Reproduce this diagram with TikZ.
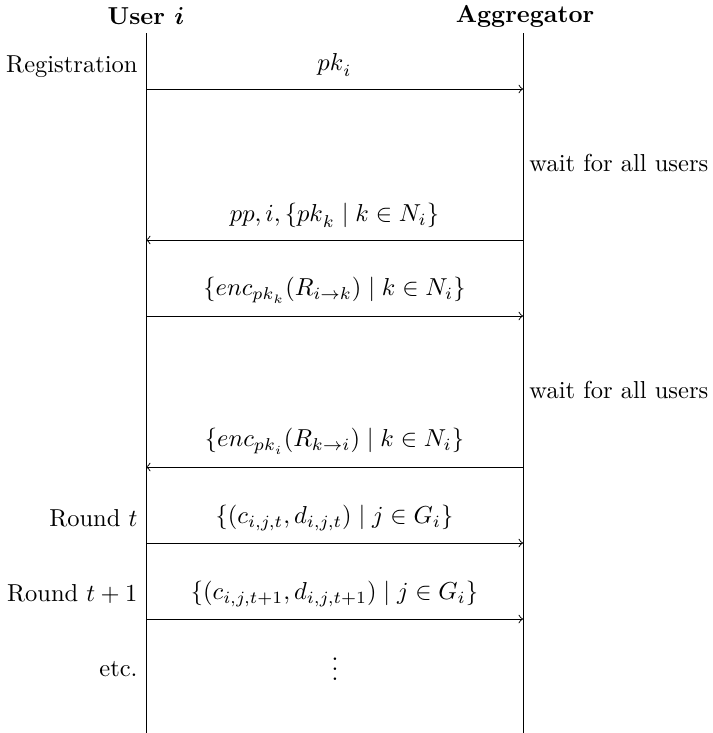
\documentclass[tikz,border=0pt]{standalone}
\usepackage{amsmath,amssymb,bm}
\begin{document}
\begin{tikzpicture}[x=0.408pt,y=-0.408pt,
  lifeline/.style={line width=0.4pt},
  msg/.style={->,line width=0.4pt},
  msglabel/.style={midway,above=1.5pt},
  sidelabel/.style={anchor=east,inner sep=0pt},
  waitlabel/.style={anchor=west,inner sep=0pt},
  header/.style={font=\bfseries,inner sep=0pt}]
\useasboundingbox (0,0) rectangle (713,733);
% headers
\node[header] (user) at (146,16) {User $\bm{i}$};
\node[header] (agg) at (525,16) {Aggregator};
% lifelines
\coordinate (utop) at (146,33);
\coordinate (ubot) at (146,733);
\coordinate (atop) at (523,33);
\coordinate (abot) at (523,733);
\draw[lifeline] (utop) -- (ubot);
\draw[lifeline] (atop) -- (abot);
% message points
\foreach \n/\y in {1/89,2/240,3/316,4/467,5/543,6/619}{
  \coordinate (u\n) at (146,\y);
  \coordinate (a\n) at (523,\y);
}
\draw[msg] (u1) -- (a1) node[msglabel] (m1) {${pk}_i$};
\draw[msg] (a2) -- (u2) node[msglabel] (m2) {$pp, i, \{{pk}_k \mid k \in N_i\}$};
\draw[msg] (u3) -- (a3) node[msglabel] (m3) {$\{enc_{{pk}_k}(R_{i\rightarrow k}) \mid k \in N_i\}$};
\draw[msg] (a4) -- (u4) node[msglabel] (m4) {$\{enc_{{pk}_i}(R_{k\rightarrow i}) \mid k \in N_i\}$};
\draw[msg] (u5) -- (a5) node[msglabel] (m5) {$\{(c_{i,j,t}, d_{i,j,t}) \mid j \in G_i\}$};
\draw[msg] (u6) -- (a6) node[msglabel] (m6) {$\{(c_{i,j,t+1}, d_{i,j,t+1}) \mid j \in G_i\}$};
% side labels
\node[sidelabel] (reg) at (138,67) {Registration};
\node[sidelabel] (rt) at (138,518) {Round $t$};
\node[sidelabel] (rt1) at (138,594) {Round $t+1$};
\node[sidelabel] (etc) at (138,669) {etc.};
\node[waitlabel] (w1) at (529,163) {wait for all users};
\node[waitlabel] (w2) at (529,390) {wait for all users};
\node (dots) at (335,662) {$\vdots$};
\end{tikzpicture}
\end{document}
